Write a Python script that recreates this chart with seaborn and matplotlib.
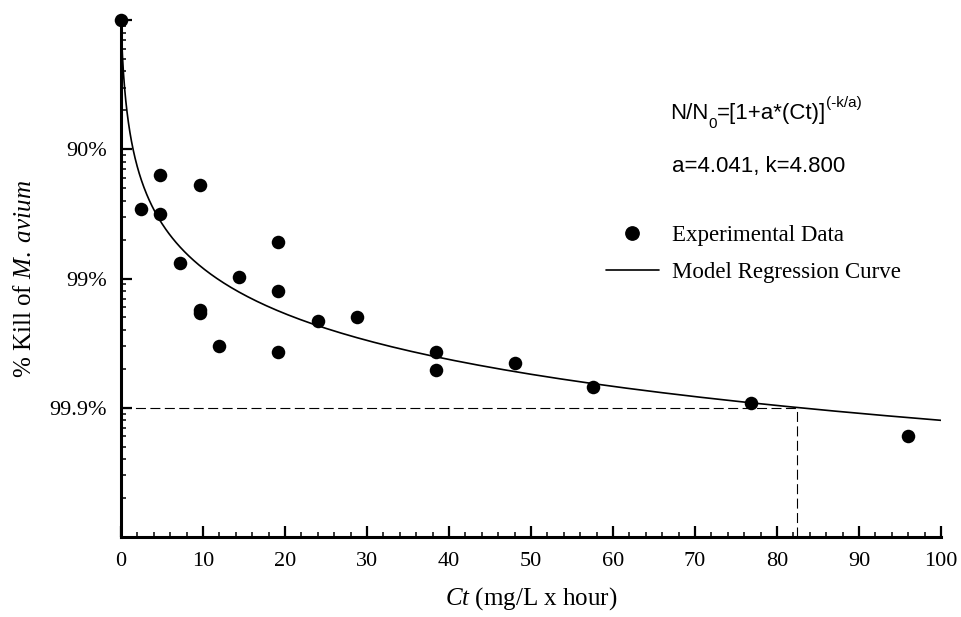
import numpy as np
import matplotlib
matplotlib.use("Agg")
import matplotlib.pyplot as plt
from matplotlib.lines import Line2D
from matplotlib.ticker import MultipleLocator
import seaborn as sns

ct = [0, 2.4, 4.8, 4.8, 7.2, 9.6, 9.6, 9.6, 12.0, 14.4, 19.2, 19.2, 19.2,
      24.0, 28.8, 38.4, 38.4, 48.0, 57.6, 76.8, 96.0]
# log10(N/N0) for each sample
log_surv = [0, -1.46, -1.20, -1.50, -1.88, -1.28, -2.24, -2.27, -2.52, -1.99,
            -1.72, -2.10, -2.57, -2.33, -2.30, -2.57, -2.71, -2.65, -2.84,
            -2.96, -3.22]

# model parameters printed on the chart
a = 4.041
k = 4.800
ct_999 = 82.5   # Ct where the curve reaches 99.9% kill

x_ticks = [0, 10, 20, 30, 40, 50, 60, 70, 80, 90, 100]
y_ticks = [1, 0.1, 0.01, 0.001]
y_labels = ['', '90%', '99%', '99.9%']

sns.set_style('ticks')
plt.rcParams['font.family'] = ['Liberation Serif', 'DejaVu Serif']
plt.rcParams['mathtext.fontset'] = 'custom'
plt.rcParams['mathtext.rm'] = 'Liberation Serif'
plt.rcParams['mathtext.it'] = 'Liberation Serif:italic'
plt.rcParams['text.color'] = 'black'
plt.rcParams['axes.labelcolor'] = 'black'

surv = 10 ** np.array(log_surv)
ct_curve = np.concatenate([[0], np.geomspace(1e-3, 100, 500)])
surv_curve = (1 + a * ct_curve) ** (-k / a)

fig = plt.figure(figsize=(9.62, 6.17), dpi=100)
ax = fig.add_axes([121 / 962, 80 / 617, 820 / 962, 517 / 617])
ax.set_yscale('log')

sns.lineplot(x=ct_curve, y=surv_curve, ax=ax, color='black', linewidth=1.2,
             estimator=None, sort=False)
sns.scatterplot(x=ct, y=surv, ax=ax, color='black', s=95, linewidth=0,
                clip_on=False, zorder=5)

# 99.9% guide lines
ax.plot([0, ct_999], [1e-3, 1e-3], color='black', lw=0.8, dashes=(9, 4))
ax.plot([ct_999, ct_999], [1e-4, 1e-3], color='black', lw=0.8, dashes=(9, 4))

ax.set_xlim(0, 100)
ax.set_ylim(1e-4, 1)
ax.set_xticks(x_ticks)
ax.xaxis.set_minor_locator(MultipleLocator(2))
ax.set_yticks(y_ticks)
ax.set_yticklabels(y_labels)

for s in ['top', 'right']:
    ax.spines[s].set_visible(False)
for s in ['left', 'bottom']:
    ax.spines[s].set_linewidth(2.2)
    ax.spines[s].set_color('black')
ax.tick_params(which='major', direction='in', length=8, width=1.6,
               labelsize=16, colors='black')
ax.tick_params(axis='x', which='major', pad=11)
ax.tick_params(axis='y', which='major', pad=10)
ax.tick_params(which='minor', direction='in', length=3.8, width=1.1,
               colors='black')

ax.set_xlabel(r'$\it{Ct}$ (mg/L x hour)', fontsize=18, labelpad=10)
ax.set_ylabel(r'% Kill of $\it{M.\ avium}$', fontsize=18, labelpad=9.5)


# model equation, built piece by piece so the minus stays a hyphen
def chain(prev, s, size, dy):
    return ax.annotate(s, xy=(1, 0), xycoords=prev, xytext=(0, dy),
                       textcoords='offset points', fontsize=size,
                       family='Liberation Sans', va='bottom', ha='left',
                       color='black')


t = fig.text(670 / 962, 1 - 124 / 617, 'N/N', family='Liberation Sans',
             fontsize=16, va='bottom', color='black')
t = chain(t, '0', 11, -5)
t = chain(t, '=[1+a*(Ct)]', 16, 5)
chain(t, '(-k/a)', 11, 10)
fig.text(672 / 962, 1 - 172 / 617, 'a=4.041, k=4.800',
         family='Liberation Sans', fontsize=16, va='baseline', color='black')

handles = [Line2D([], [], ls='none', marker='o', color='black', markersize=9.6),
           Line2D([], [], color='black', lw=1.2)]
ax.legend(handles, ['Experimental Data', 'Model Regression Curve'],
          loc='upper left', bbox_to_anchor=(606 / 962, 1 - 225 / 617),
          bbox_transform=fig.transFigure, frameon=False, fontsize=16.5,
          borderpad=0, borderaxespad=0, handlelength=2.3,
          handletextpad=0.6, labelspacing=0.7)

fig.savefig('out.png', dpi=100)
